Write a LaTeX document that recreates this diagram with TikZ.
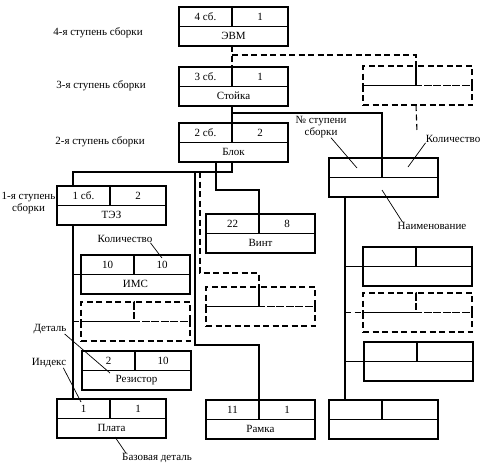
\documentclass[tikz,border=0pt]{standalone}
\usepackage{fontspec}
\setmainfont{Liberation Serif}
\usetikzlibrary{positioning,calc}

\tikzset{
  cell/.style={draw, line width=1.1pt, minimum height=19.5pt, inner sep=0pt, outer sep=0pt, font=\fontsize{11}{12}\selectfont},
  dcell/.style={cell, dash pattern=on 6pt off 3.5pt},
  link/.style={line width=1.1pt},
  dlink/.style={link, dash pattern=on 6pt off 3.5pt},
  leader/.style={line width=0.7pt},
  note/.style={font=\fontsize{11}{11.5}\selectfont, inner sep=0pt, align=center}
}

% box: two cells on top, name below
\newcommand{\asmbox}[7][cell]{%
  \node[#1, minimum width=53pt, anchor=north west] (#2-l) at (#3,#4) {#5};
  \node[#1, minimum width=56pt, anchor=north west] (#2-r) at (#2-l.north east) {#6};
  \node[#1, minimum width=109pt, anchor=north west] (#2) at (#2-l.south west) {#7};
}

\begin{document}
\begin{tikzpicture}[x=1pt, y=-1pt]
\useasboundingbox (0,0) rectangle (486,472);

% levels
\node[note] (lev4) at (98,33) {4-я ступень сборки};
\node[note] (lev3) at (101,86) {3-я ступень сборки};
\node[note] (lev2) at (100,142) {2-я ступень сборки};
\node[note] (lev1) at (28.5,203) {1-я ступень\\сборки};

% boxes
\asmbox{evm}{179}{7}{4 сб.}{1}{ЭВМ}
\asmbox{stoika}{179}{67}{3 сб.}{1}{Стойка}
\asmbox{blok}{179}{123}{2 сб.}{2}{Блок}
\asmbox{tez}{57}{186}{1 сб.}{2}{ТЭЗ}
\asmbox{ims}{81}{255}{10}{10}{ИМС}
\asmbox[dcell]{imsd}{81}{302}{}{}{}
\asmbox{rez}{82}{351}{2}{10}{Резистор}
\asmbox{plata}{57}{399}{1}{1}{Плата}
\asmbox{vint}{206}{214}{22}{8}{Винт}
\asmbox[dcell]{vintd}{206}{287}{}{}{}
\asmbox{ramka}{206}{400}{11}{1}{Рамка}
\asmbox[dcell]{topd}{363}{66}{}{}{}
\asmbox{legend}{329}{158}{}{}{}
\asmbox{ra}{363}{247}{}{}{}
\asmbox[dcell]{rb}{363}{293}{}{}{}
\asmbox{rc}{364}{342}{}{}{}
\asmbox{rbot}{329}{400}{}{}{}

% junctions
\coordinate (j4) at (232,55);
\coordinate (j3) at (232,113);
\coordinate (j2) at (232,172);
\coordinate (jtez) at (73,172);
\coordinate (jmid) at (195,172);
\coordinate (jramka) at (195,345);
\coordinate (jdash) at (200,172);
\coordinate (jvd) at (200,273);
\coordinate (jvint) at (216,190);
\coordinate (topdend) at (417,132);
\coordinate (rbus) at ([xshift=16pt]legend.south west);

% connectors
\draw[dlink] (evm-l.east |- evm.south) -- (stoika-l.south east);
\draw[dlink] (j4) -| (topd-l.south east);
\draw[dlink] (topd-l.east |- topd.south) -- (topdend);
\draw[link] (stoika-l.east |- stoika.south) -- (blok-l.south east);
\draw[link] (j3) -| (legend-l.south east);
\draw[link] (blok-l.east |- blok.south) -- (j2) -- (jtez) -- (tez-l.north -| jtez);
\draw[link] (tez.south -| jtez) -- (plata-l.north -| jtez);
\draw[link] (ims.north west -| jtez) -- (ims.north west);
\draw[dlink] (imsd.north west -| jtez) -- (imsd.north west);
\draw[link] (jmid) -- (jramka) -| (ramka-l.south east);
\draw[dlink] (jdash) -- (jvd) -| (vintd-l.south east);
\draw[link] (blok.south -| jvint) -- (jvint) -| (vint-l.south east);
\draw[link] (rbus) -- (rbus |- rbot-l.north);
\draw[link] (rbus |- ra.north west) -- (ra.north west);
\draw[dlink] (rbus |- rb.north west) -- (rb.north west);
\draw[link] (rbus |- rc.north west) -- (rc.north west);

% labels with leaders
\node[note] (kol1) at (125,239) {Количество};
\draw[leader] ([xshift=-2pt]kol1.south east) -- (162,258);
\node[note] (det) at (50,329) {Деталь};
\draw[leader] ([xshift=-2pt]det.south east) -- (110,373);
\node[note] (idx) at (49,363) {Индекс};
\draw[leader] ([xshift=-3pt]idx.south east) -- (81,402);
\node[note] (baz) at (157,458) {Базовая деталь};
\draw[leader] ([xshift=4pt]baz.north west) -- (115,437);
\node[note] (stup) at (321,127) {№ ступени\\сборки};
\draw[leader] ([xshift=10pt]stup.south) -- (357,168);
\node[note] (kol2) at (453,139) {Количество};
\draw[leader] (kol2.south west) -- (408,167);
\node[note] (naim) at (432,226) {Наименование};
\draw[leader] ([xshift=5pt]naim.north west) -- (382,190);
\end{tikzpicture}
\end{document}
